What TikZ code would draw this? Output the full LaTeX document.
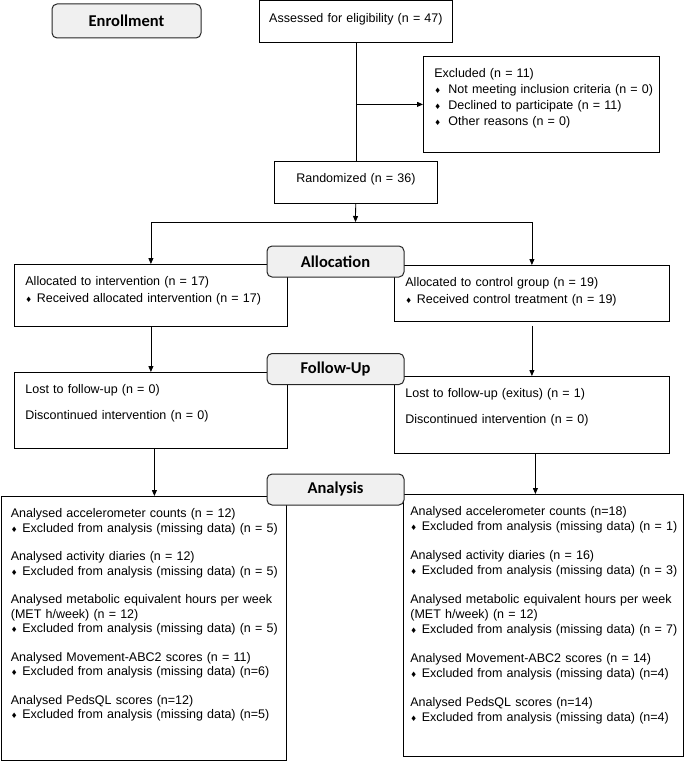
\documentclass[tikz,border=0pt]{standalone}
\usepackage{fontspec}
\setmainfont{Liberation Sans}
\newfontfamily\headfont{Carlito}
\newfontfamily\symfont{DejaVu Sans}
\usetikzlibrary{arrows.meta}
\newcommand{\itm}[2][11.5pt]{\mbox{\makebox[#1][l]{\symfont\fontsize{7.5}{7.5}\selectfont ♦}#2}}

\begin{document}
\begin{tikzpicture}[x=1pt,y=-1pt,>={Triangle[length=6pt,width=5pt]},
        box/.style={draw,line width=0.8pt,anchor=north west,align=left,inner xsep=11pt,inner ysep=11.5pt,
            text height=10pt,font=\fontsize{12.5}{16}\selectfont},
        midbox/.style={box,align=center,inner xsep=6pt},
        phase/.style={draw=black!85,line width=1pt,fill=black!6,rounded corners=5pt,minimum width=137pt,
            minimum height=31pt,inner sep=0pt,font=\headfont\bfseries\fontsize{16.5}{18}\selectfont},
        every path/.style={line width=0.8pt}]
    \useasboundingbox (0,0) rectangle (685,762);

    \node[midbox,text width=181pt,text depth=9pt] (assess) at (259,0.5) {Assessed for eligibility (n = 47)};
    \node[box,text width=214pt,text depth=63pt] (excl) at (423,56) {Excluded (n = 11)\\
        \itm[14pt]{Not meeting inclusion criteria (n = 0)}\\
        \itm[14pt]{Declined to participate (n = 11)}\\
        \itm[14pt]{Other reasons (n = 0)}};
    \node[midbox,text width=151pt,text depth=9pt] (rand) at (274,161) {Randomized (n = 36)};

    \node[box,text width=251pt,text depth=29pt,font=\fontsize{12.5}{16.5}\selectfont] (allocL) at (14,264)
        {Allocated to intervention (n = 17)\\ \itm{Received allocated intervention (n = 17)}};
    \node[box,text width=253pt,text depth=23pt,font=\fontsize{12.5}{16.5}\selectfont] (allocR) at (394,265)
        {Allocated to control group (n = 19)\\ \itm{Received control treatment (n = 19)}};

    \node[box,text width=251pt,text depth=43pt] (follL) at (14,372)
        {Lost to follow-up (n = 0)\\[9.5pt] Discontinued intervention (n = 0)};
    \node[box,text width=253pt,text depth=44pt] (follR) at (394,376)
        {Lost to follow-up (exitus) (n = 1)\\[9.5pt] Discontinued intervention (n = 0)};

    \node[box,inner xsep=10pt,text width=265.5pt,text depth=231pt,font=\fontsize{12.5}{14.5}\selectfont] (anaL) at (0.5,496)
        {Analysed accelerometer counts (n = 12)\\
        \itm{Excluded from analysis (missing data) (n = 5)}\\[14pt]
        Analysed activity diaries (n = 12)\\
        \itm{Excluded from analysis (missing data) (n = 5)}\\[14pt]
        \mbox{Analysed metabolic equivalent hours per week}\\
        (MET h/week) (n = 12)\\
        \itm{Excluded from analysis (missing data) (n = 5)}\\[14pt]
        Analysed Movement-ABC2 scores (n = 11)\\
        \itm{Excluded from analysis (missing data) (n=6)}\\[14pt]
        Analysed PedsQL scores (n=12)\\
        \itm{Excluded from analysis (missing data) (n=5)}};
    \node[box,inner xsep=7pt,text width=266pt,text depth=229pt,font=\fontsize{12.5}{15}\selectfont] (anaR) at (403,494)
        {Analysed accelerometer counts (n=18)\\
        \itm{Excluded from analysis (missing data) (n = 1)}\\[14pt]
        Analysed activity diaries (n = 16)\\
        \itm{Excluded from analysis (missing data) (n = 3)}\\[14pt]
        \mbox{Analysed metabolic equivalent hours per week}\\
        (MET h/week) (n = 12)\\
        \itm{Excluded from analysis (missing data) (n = 7)}\\[14pt]
        Analysed Movement-ABC2 scores (n = 14)\\
        \itm{Excluded from analysis (missing data) (n=4)}\\[14pt]
        Analysed PedsQL scores (n=14)\\
        \itm{Excluded from analysis (missing data) (n=4)}};

    \node[phase,minimum width=149pt,minimum height=34pt] (enrol) at (126.5,21) {Enrollment};
    \node[phase] (alloc) at (335.5,261.5) {Allocation};
    \node[phase] (follow) at (335.5,369) {Follow-Up};
    \node[phase] (analysis) at (335.5,489.5) {Analysis};

    \coordinate (split) at (355.5,222);
    \draw (assess) -- (rand);
    \draw[->] (assess.south |- excl.west) -- (excl);
    \draw[->] (rand) -- (split);
    \draw[->] (split) -| (allocL);
    \draw[->] (split) -| (allocR);
    \draw[->] (allocL) -- (follL);
    \draw[->,shorten <=4pt] (allocR) -- (follR);
    \draw[->] ([xshift=3.5pt]follL.south) -- ([xshift=3.5pt]follL.south |- anaL.north);
    \draw[->] ([xshift=3.5pt]follR.south) -- ([xshift=3.5pt]follR.south |- anaR.north);
\end{tikzpicture}
\end{document}
